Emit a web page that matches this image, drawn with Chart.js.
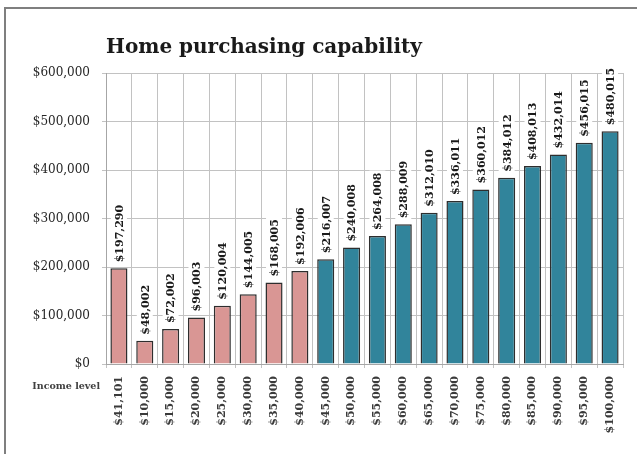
<!DOCTYPE html>
<html>
<head>
<meta charset="utf-8">
<script src="https://cdn.jsdelivr.net/npm/chart.js@4/dist/chart.umd.min.js"></script>
<style>
  html, body { margin: 0; padding: 0; background: #fff; }
  #wrap { position: relative; width: 637px; height: 454px; }
</style>
</head>
<body>
<div id="wrap"><canvas id="homeChart" width="637" height="454"></canvas></div>
<script>
const incomeLevels = ['$41,101', '$10,000', '$15,000', '$20,000', '$25,000', '$30,000', '$35,000', '$40,000',
    '$45,000', '$50,000', '$55,000', '$60,000', '$65,000', '$70,000', '$75,000', '$80,000',
    '$85,000', '$90,000', '$95,000', '$100,000'];
const homePrices = [197290, 48002, 72002, 96003, 120004, 144005, 168005, 192006,
    216007, 240008, 264008, 288009, 312010, 336011, 360012, 384012,
    408013, 432014, 456015, 480015];
const yTicks = [0, 100000, 200000, 300000, 400000, 500000, 600000];
const lowerBandCount = 8; // the first group is drawn in rose

const money = v => '$' + v.toLocaleString('en-US');
const serif = '"DejaVu Serif", serif';

const barColors = homePrices.map((v, i) => i < lowerBandCount ? '#d99694' : '#31849b');

// frame, title and the axis caption
const decorPlugin = {
    id: 'decor',
    beforeDraw(chart) {
        const c = chart.ctx;
        c.save();
        c.strokeStyle = '#7f7f7f';
        c.lineWidth = 2;
        c.beginPath();
        c.moveTo(5, 460);
        c.lineTo(5, 8);
        c.lineTo(640, 8);
        c.stroke();
        c.restore();
    },
    afterDraw(chart) {
        const c = chart.ctx;
        const area = chart.chartArea;
        c.save();
        c.fillStyle = '#1a1a1a';
        c.font = 'bold 20px ' + serif;
        c.textAlign = 'left';
        c.textBaseline = 'alphabetic';
        c.fillText('Home purchasing capability', area.left, 53);
        c.fillStyle = '#404040';
        c.font = 'bold 9.5px ' + serif;
        c.textAlign = 'right';
        c.textBaseline = 'middle';
        c.fillText('Income level', 100, 387);
        c.restore();
    }
};

// rotated value labels on a white box above each bar
const valueLabelPlugin = {
    id: 'valueLabels',
    afterDatasetsDraw(chart) {
        const c = chart.ctx;
        const meta = chart.getDatasetMeta(0);
        c.save();
        c.font = 'bold 11px ' + serif;
        meta.data.forEach((bar, i) => {
            const text = money(homePrices[i]);
            const w = c.measureText(text).width;
            c.save();
            c.translate(bar.x, bar.y - 6);
            c.rotate(-Math.PI / 2);
            c.fillStyle = '#ffffff';
            c.fillRect(-2, -8, w + 4, 16);
            c.fillStyle = '#1a1a1a';
            c.textAlign = 'left';
            c.textBaseline = 'middle';
            c.fillText(text, 0, 1);
            c.restore();
        });
        c.restore();
    }
};

new Chart(document.getElementById('homeChart'), {
    type: 'bar',
    data: {
        labels: incomeLevels,
        datasets: [{
            data: homePrices,
            backgroundColor: barColors,
            borderColor: '#2e2e2e',
            borderWidth: 1.5,
            barPercentage: 0.66,
            categoryPercentage: 1
        }]
    },
    options: {
        responsive: false,
        animation: false,
        layout: { padding: { top: 73, right: 14, left: 0, bottom: 0 } },
        plugins: {
            legend: { display: false },
            title: { display: false },
            tooltip: { enabled: false }
        },
        scales: {
            x: {
                grid: { color: '#c2c2c2', tickLength: 4, offset: true },
                border: { color: '#a6a6a6' },
                ticks: {
                    minRotation: 90,
                    maxRotation: 90,
                    padding: 8,
                    color: '#3a3a3a',
                    font: { family: serif, size: 11, weight: 'bold' }
                },
                afterFit(scale) { scale.height = 454 - 364; }
            },
            y: {
                min: 0,
                max: 600000,
                afterBuildTicks(scale) { scale.ticks = yTicks.map(v => ({ value: v })); },
                grid: { color: '#c2c2c2', tickLength: 4 },
                border: { color: '#a6a6a6' },
                ticks: {
                    padding: 12,
                    color: '#262626',
                    font: { family: serif, size: 12 },
                    callback: v => money(v)
                },
                afterFit(scale) { scale.width = 106; }
            }
        }
    },
    plugins: [decorPlugin, valueLabelPlugin]
});
</script>
</body>
</html>
